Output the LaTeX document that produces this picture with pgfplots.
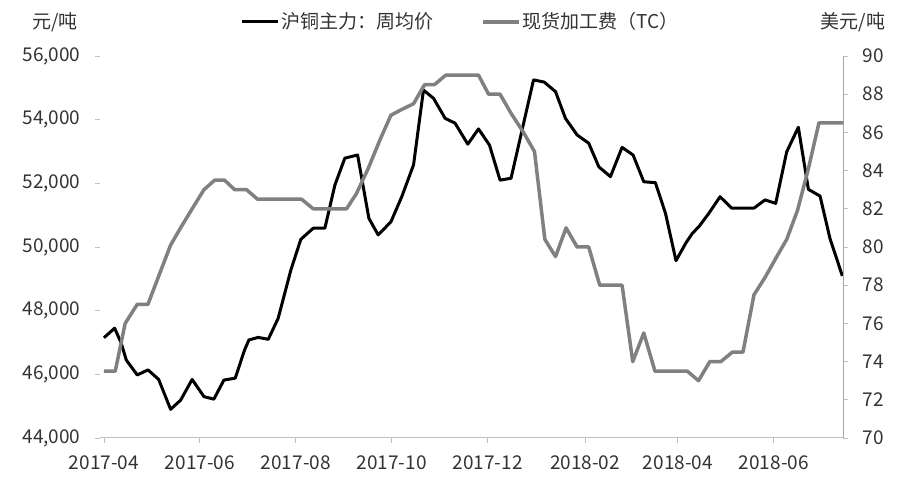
\documentclass[border=0pt]{standalone}
\usepackage{fontspec}
\setmainfont{Noto Sans CJK SC}
\usepackage{pgfplots}
\pgfplotsset{compat=1.18}
\definecolor{tcgray}{RGB}{128,128,128}
\definecolor{axgray}{RGB}{191,191,191}
\definecolor{axgray2}{RGB}{166,166,166}
\definecolor{txt}{RGB}{51,51,51}
\begin{document}
\fontsize{19}{22}\selectfont
\begin{tikzpicture}
\useasboundingbox (0,0) rectangle (900pt,489pt);
\pgfplotsset{
  common/.style={
    at={(100pt,51pt)}, anchor=south west,
    width=743pt, height=382pt, scale only axis,
    xmin=-2.5, xmax=470,
    tick style={axgray, line width=0.8pt},
    major tick length=5pt, tick align=outside,
    ticklabel style={font=\fontsize{19}{22}\selectfont, text=txt},
    /pgf/number format/assume math mode=true,
  }
}
\begin{axis}[common,
  ymin=44000, ymax=56000, ytick distance=2000,
  axis x line*=bottom, axis y line*=left,
  y axis line style={draw=none},
  x axis line style={axgray, line width=1pt, -},
  xtick={0,61,122,183,244,306,365,426},
  xticklabels={2017-04,2017-06,2017-08,2017-10,2017-12,2018-02,2018-04,2018-06},
  xticklabel style={yshift=-6pt},
  yticklabel style={xshift=-8pt, /pgf/number format/.cd, 1000 sep={,}, fixed},
  scaled y ticks=false,
]
\addplot[black, line width=3pt, line join=round] coordinates {
(0,47150) (6.8,47450) (11.0,46980) (14.2,46450) (21.2,45980) (28.0,46140)
(34.8,45840) (42.4,44900) (48.8,45190) (56.1,45840) (63.6,45300) (69.9,45220)
(76.3,45820) (83.5,45880) (89.4,46760) (92.2,47080) (98.1,47160) (104.5,47100)
(110.8,47760) (118.9,49280) (125.2,50240) (133.1,50590) (140.5,50590) (146.9,51950)
(153.2,52790) (161.3,52890) (168.5,50900) (174.4,50380) (182.5,50790) (189.4,51580)
(196.9,52580) (203.2,54930) (209.6,54670) (217.0,54040) (223.3,53890) (231.4,53230)
(238.2,53710) (245.2,53200) (251.9,52100) (258.9,52160) (273.2,55250) (280,55180)
(287.2,54880) (293.5,54040) (300.9,53520) (308.3,53260) (314.7,52520) (322.1,52210)
(329.5,53130) (336.5,52890) (343.3,52050) (350.7,52020) (357.1,51060) (363.8,49570)
(370.0,50120) (374.2,50430) (378.4,50640) (384.7,51060) (391.8,51580) (399.2,51220)
(406.0,51220) (413.4,51220) (420.4,51480) (427.2,51370) (434.2,52990) (441.6,53760)
(448.0,51810) (455.4,51600) (461.7,50270) (469.6,49090)
};
\end{axis}
\begin{axis}[common,
  ymin=70, ymax=90, ytick distance=2,
  axis x line=none, axis y line*=right,
  y axis line style={axgray2, line width=1pt, -},
  yticklabel style={xshift=8pt},
  legend columns=2,
  legend style={draw=none, fill=none, at={(0.485,1.089)}, anchor=center,
    font=\fontsize{19}{22}\selectfont, text=txt,
    /tikz/every even column/.append style={column sep=46pt},
    nodes={inner sep=2pt}},
  legend image code/.code={\draw[#1] (0pt,0pt) -- (36pt,0pt);},
]
\addlegendimage{black, line width=3pt}
\addlegendentry{沪铜主力：周均价}
\addplot[tcgray, line width=3.5pt, line join=round] coordinates {
(0,73.5) (7.2,73.5) (13.5,76.0) (21.2,77) (28.0,77) (35.4,78.6) (42.4,80.1)
(49.1,81.05) (56.1,82.0) (63.6,83) (70.4,83.5) (76.7,83.5) (83.1,83) (90.7,83)
(97.7,82.5) (104.5,82.5) (110.8,82.5) (118.9,82.5) (125.7,82.5) (133.1,82)
(140.5,82) (146.9,82) (154.3,82) (160.6,82.8) (168.0,84.1) (175.5,85.6)
(182.5,86.9) (189.4,87.2) (196.9,87.5) (203.9,88.5) (210.2,88.5) (217.4,89)
(224.4,89) (231.4,89) (238.2,89) (244.6,88) (251.9,88) (258.9,87) (266.8,86)
(273.8,85) (280.4,80.4) (287.2,79.5) (293.9,81) (300.9,80) (308.3,80) (315.3,78)
(322.3,78) (329.5,78) (336.3,74) (343.3,75.5) (350.4,73.5) (357.1,73.5)
(364,73.5) (371,73.5) (378.1,73) (385.3,74) (392.3,74) (399.7,74.5) (406.4,74.5)
(413.4,77.5) (420.4,78.4) (427.2,79.4) (434.2,80.4) (441.0,81.9) (448.0,84.1)
(454.7,86.5) (461.7,86.5) (470,86.5)
};
\addlegendentry{现货加工费（TC）}
\end{axis}
\node[anchor=center, text=txt] at (55pt,467pt) {元/吨};
\node[anchor=center, text=txt] at (853pt,467pt) {美元/吨};
\end{tikzpicture}
\end{document}
